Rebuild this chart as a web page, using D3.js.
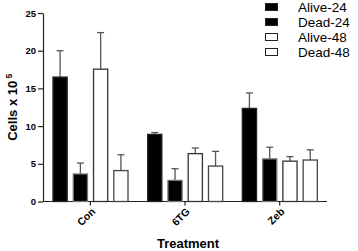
<!DOCTYPE html>
<html lang="en">
<head>
    <meta charset="UTF-8">
    <title>Cells x 10^5 by Treatment</title>
    <script src="https://d3js.org/d3.v7.min.js"></script>
    <style>
        body { margin: 0; background: #fff; font-family: Arial, "Liberation Sans", sans-serif; }
        .axis text { font-weight: bold; font-size: 9.5px; fill: #000; }
        .axis path, .axis line { stroke: #222; stroke-width: 1.2; }
    </style>
</head>
<body>
    <svg width="358" height="251"></svg>
    <script>
        // Data
        const categories = ["Con", "6TG", "Zeb"];
        const seriesNames = ["Alive-24", "Dead-24", "Alive-48", "Dead-48"];
        const seriesFill = ["#000", "#000", "#fff", "#fff"];
        const seriesStroke = ["#222", "#777", "#333", "#444"];
        // mean values per series (order = categories)
        const alive24 = [16.5, 8.9, 12.35];
        const dead24 = [3.65, 2.8, 5.65];
        const alive48 = [17.55, 6.35, 5.35];
        const dead48 = [4.1, 4.7, 5.5];
        // top of error bars
        const alive24Err = [20.0, 9.15, 14.4];
        const dead24Err = [5.1, 4.35, 7.2];
        const alive48Err = [22.4, 7.1, 5.95];
        const dead48Err = [6.2, 6.65, 6.85];
        const yTicks = [0, 5, 10, 15, 20, 25];

        const values = [alive24, dead24, alive48, dead48];
        const errTops = [alive24Err, dead24Err, alive48Err, dead48Err];

        const svg = d3.select("svg");
        const mLeft = 43, mRight = 327, mTop = 13, mBottom = 201.5;

        const x0 = d3.scaleBand().domain(categories).range([mLeft, mRight]);
        const x1 = d3.scaleBand().domain(seriesNames)
            .range([10, 85]).paddingInner(0.3).paddingOuter(0);
        const y = d3.scaleLinear().domain([0, 25]).range([mBottom, mTop]);

        // Axes
        svg.append("g")
            .attr("class", "axis")
            .attr("transform", `translate(${mLeft},0)`)
            .call(d3.axisLeft(y).tickValues(yTicks).tickSize(5).tickPadding(2).tickSizeOuter(0));

        const xAxis = svg.append("g")
            .attr("class", "axis")
            .attr("transform", `translate(0,${mBottom})`)
            .call(d3.axisBottom(x0).tickSize(4).tickSizeOuter(0).tickFormat(""));
        xAxis.select(".domain").attr("d", `M${mLeft},0H${mRight}`);

        // Category labels, rotated
        svg.append("g").selectAll("text")
            .data(categories)
            .join("text")
            .attr("transform", d => `translate(${x0(d) + x0.bandwidth() / 2 + 3},${mBottom + 8}) rotate(-45)`)
            .attr("text-anchor", "end")
            .attr("dy", "0.35em")
            .style("font-weight", "bold")
            .style("font-size", "10.5px")
            .text(d => d);

        // Bars
        seriesNames.forEach((s, si) => {
            const g = svg.append("g");
            categories.forEach((c, ci) => {
                const bx = x0(c) + x1(s);
                const v = values[si][ci];
                const e = errTops[si][ci];
                const cx = bx + x1.bandwidth() / 2;
                // error bar
                g.append("line")
                    .attr("x1", cx).attr("x2", cx)
                    .attr("y1", y(v)).attr("y2", y(e))
                    .attr("stroke", "#555").attr("stroke-width", 1.3);
                g.append("line")
                    .attr("x1", cx - 3.5).attr("x2", cx + 3.5)
                    .attr("y1", y(e)).attr("y2", y(e))
                    .attr("stroke", "#555").attr("stroke-width", 1.3);
                g.append("rect")
                    .attr("x", bx)
                    .attr("y", y(v))
                    .attr("width", x1.bandwidth())
                    .attr("height", y(0) - y(v))
                    .attr("fill", seriesFill[si])
                    .attr("stroke", seriesStroke[si])
                    .attr("stroke-width", 1.3);
            });
        });

        // Axis titles
        svg.append("text")
            .attr("transform", `translate(17,${(mTop + mBottom) / 2}) rotate(-90)`)
            .attr("text-anchor", "middle")
            .style("font-weight", "bold")
            .style("font-size", "13px")
            .html('Cells x 10<tspan dy="-5" font-size="8.5px"> 5</tspan>');

        svg.append("text")
            .attr("x", (mLeft + mRight) / 2 + 3)
            .attr("y", 248)
            .attr("text-anchor", "middle")
            .style("font-weight", "bold")
            .style("font-size", "13px")
            .text("Treatment");

        // Legend
        const legend = svg.append("g").attr("transform", "translate(265,3)");
        seriesNames.forEach((s, i) => {
            const row = legend.append("g").attr("transform", `translate(0,${i * 15})`);
            row.append("rect")
                .attr("x", 0.5).attr("y", 0.5)
                .attr("width", 12).attr("height", 7)
                .attr("fill", seriesFill[i])
                .attr("stroke", "#222").attr("stroke-width", 1);
            row.append("text")
                .attr("x", 33).attr("y", 4)
                .attr("dy", "0.35em")
                .style("font-size", "13.5px")
                .text(s);
        });
    </script>
</body>
</html>
